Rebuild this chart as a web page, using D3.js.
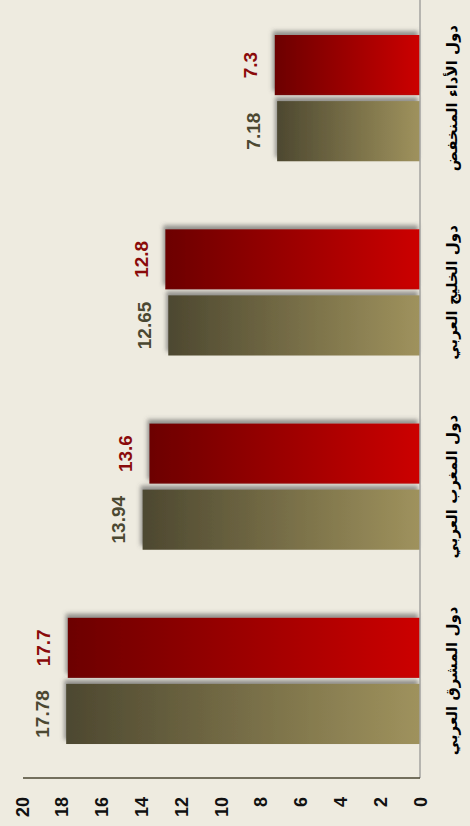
<!DOCTYPE html>
<html>
<head>
<meta charset="utf-8">
<script src="https://cdn.jsdelivr.net/npm/d3@7"></script>
<style>
  html, body { margin: 0; padding: 0; background: #eeebe0; }
  svg { display: block; }
</style>
</head>
<body>
<svg id="chart" width="470" height="826"></svg>
<script>
// Regions, listed from top of the page to the bottom
const categories = [
  "دول الأداء المنخفض",
  "دول الخليج العربي",
  "دول المغرب العربي",
  "دول المشرق العربي"
];
// Red series (upper bar in each group)
const redValues = [7.3, 12.8, 13.6, 17.7];
// Olive series (lower bar in each group)
const oliveValues = [7.18, 12.65, 13.94, 17.78];
const tickValues = [0, 2, 4, 6, 8, 10, 12, 14, 16, 18, 20];

const svg = d3.select("#chart");
const W = 470, H = 826;
svg.append("rect").attr("width", W).attr("height", H).attr("fill", "#eeebe0");

const baseX = 420, topY = 1, axisY = 778;

// value axis runs right to left: 0 at the category line, 20 at the far left
const x = d3.scaleLinear().domain([0, 20]).range([baseX, 22]);
const y = d3.scaleBand().domain(categories).range([topY, axisY])
  .paddingInner(0.35).paddingOuter(0.175);
const series = ["red", "olive"];
const ys = d3.scaleBand().domain(series).range([0, y.bandwidth()]).paddingInner(0.09);

const defs = svg.append("defs");
function grad(id, c0, c1) {
  const g = defs.append("linearGradient").attr("id", id)
    .attr("x1", "0%").attr("x2", "100%").attr("y1", "0%").attr("y2", "0%");
  g.append("stop").attr("offset", "0%").attr("stop-color", c0);
  g.append("stop").attr("offset", "100%").attr("stop-color", c1);
}
grad("gRed", "#6c0000", "#cc0000");
grad("gOlive", "#4d4830", "#9f925d");

const f = defs.append("filter").attr("id", "shadow")
  .attr("x", "-20%").attr("y", "-30%").attr("width", "140%").attr("height", "160%");
f.append("feDropShadow").attr("dx", -2).attr("dy", -4).attr("stdDeviation", 2)
  .attr("flood-color", "#555").attr("flood-opacity", 0.6);

const rows = categories.map((c, i) => ({
  cat: c,
  vals: [
    { s: "red", v: redValues[i], fill: "url(#gRed)", label: "#8a0a0a" },
    { s: "olive", v: oliveValues[i], fill: "url(#gOlive)", label: "#4b4832" }
  ]
}));

const g = svg.append("g");
const grp = g.selectAll("g.cat").data(rows).join("g")
  .attr("class", "cat")
  .attr("transform", d => `translate(0,${y(d.cat)})`);

grp.selectAll("rect").data(d => d.vals).join("rect")
  .attr("x", d => x(d.v))
  .attr("y", d => ys(d.s))
  .attr("width", d => x(0) - x(d.v))
  .attr("height", ys.bandwidth())
  .attr("fill", d => d.fill)
  .attr("filter", "url(#shadow)");

// value labels, rotated to read bottom-to-top
grp.selectAll("text.val").data(d => d.vals).join("text")
  .attr("class", "val")
  .attr("transform", d => `translate(${x(d.v) - 24},${ys(d.s) + ys.bandwidth() / 2}) rotate(-90)`)
  .attr("text-anchor", "middle")
  .attr("dominant-baseline", "central")
  .attr("font-family", "Liberation Sans, Arial, sans-serif")
  .attr("font-weight", "bold")
  .attr("font-size", 19)
  .attr("fill", d => d.label)
  .text(d => d.v);

// category line at zero
svg.append("line")
  .attr("x1", baseX).attr("x2", baseX).attr("y1", 0).attr("y2", axisY)
  .attr("stroke", "#a3a3a0").attr("stroke-width", 1.5);

// value axis along the bottom
const axis = svg.append("g").attr("transform", `translate(0,${axisY})`)
  .call(d3.axisBottom(x).tickValues(tickValues).tickSize(0).tickPadding(0));
axis.select(".domain").attr("stroke", "#4a4632").attr("stroke-width", 1.5)
  .attr("d", `M${x(20) + 1},0H${baseX}`);
axis.selectAll(".tick text")
  .attr("y", 0).attr("dy", null)
  .attr("transform", "translate(0,19) rotate(-90)")
  .attr("text-anchor", "end")
  .attr("dominant-baseline", "central")
  .attr("font-family", "Liberation Sans, Arial, sans-serif")
  .attr("font-weight", "bold")
  .attr("font-size", 18)
  .attr("fill", "#111");

// category labels beside the zero line
svg.selectAll("text.cat").data(categories).join("text")
  .attr("class", "cat")
  .attr("transform", d => `translate(452,${y(d) + y.bandwidth() / 2}) rotate(-90)`)
  .attr("text-anchor", "middle")
  .attr("dominant-baseline", "central")
  .attr("font-family", "DejaVu Sans, Noto Sans, sans-serif")
  .attr("font-weight", "bold")
  .attr("font-size", 15)
  .attr("fill", "#000")
  .text(d => d);
</script>
</body>
</html>
